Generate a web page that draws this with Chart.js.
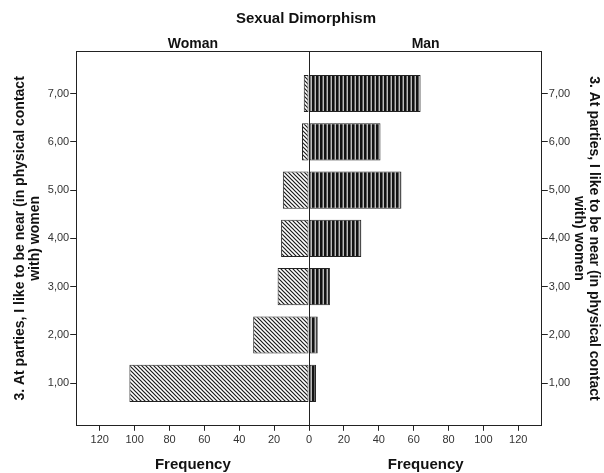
<!DOCTYPE html>
<html>
<head>
<meta charset="utf-8">
<title>Sexual Dimorphism</title>
<script src="https://cdn.jsdelivr.net/npm/chart.js@4/dist/chart.umd.min.js"></script>
<style>
  html, body { margin: 0; padding: 0; background: #fff; }
  canvas { display: block; }
</style>
</head>
<body>
<canvas id="pyramid" width="604" height="473"></canvas>
<script>
// answer levels (1,00 .. 7,00) and counts
const levels = [1, 2, 3, 4, 5, 6, 7];
const women = [103, 32, 18, 16, 15, 4, 3];
const men = [4, 5, 12, 30, 53, 41, 64];
const freqTicks = [-120, -100, -80, -60, -40, -20, 0, 20, 40, 60, 80, 100, 120];
const yTitle = ['3. At parties, I like to be near (in physical contact', 'with) women'];

const FONT = "'Liberation Sans', Arial, Helvetica, sans-serif";
const canvas = document.getElementById('pyramid');
const ctx = canvas.getContext('2d');

// hatch for women: thin diagonal lines
function hatchWoman() {
	const c = document.createElement('canvas');
	c.width = 4; c.height = 4;
	const g = c.getContext('2d');
	g.fillStyle = '#fff';
	g.fillRect(0, 0, 4, 4);
	g.strokeStyle = '#1a1a1a';
	g.lineWidth = 1.2;
	g.beginPath();
	g.moveTo(-1, -1); g.lineTo(5, 5);
	g.moveTo(-1, 3); g.lineTo(1, 5);
	g.moveTo(3, -1); g.lineTo(5, 1);
	g.stroke();
	return ctx.createPattern(c, 'repeat');
}

// hatch for men: black vertical stripes with grey gaps
function hatchMan() {
	const c = document.createElement('canvas');
	c.width = 4; c.height = 1;
	const g = c.getContext('2d');
	g.fillStyle = '#121212';
	g.fillRect(0, 0, 2, 1);
	g.fillStyle = '#5e5e5e';
	g.fillRect(2, 0, 1, 1);
	g.fillStyle = '#bdbdbd';
	g.fillRect(3, 0, 1, 1);
	return ctx.createPattern(c, 'repeat');
}

const fixedTicks = list => scale => { scale.ticks = list.map(v => ({ value: v })); };
const levelLabel = v => v.toFixed(2).replace('.', ',');

// frame, zero line and the half labels (Woman / Man / Frequency)
const frameAndLabels = {
	id: 'frameAndLabels',
	afterDatasetsDraw(chart) {
		const c = chart.ctx;
		const a = chart.chartArea;
		const x0 = Math.round(chart.scales.x.getPixelForValue(0)) + 0.5;
		c.save();
		c.strokeStyle = '#222';
		c.lineWidth = 1;
		c.strokeRect(Math.round(a.left) + 0.5, Math.round(a.top) + 0.5, Math.round(a.width) - 1, Math.round(a.height) - 1);
		c.beginPath();
		c.moveTo(x0, a.top);
		c.lineTo(x0, a.bottom);
		c.stroke();

		c.fillStyle = '#111';
		c.textAlign = 'center';
		c.textBaseline = 'alphabetic';
		c.font = 'bold 14px ' + FONT;
		c.fillText('Woman', (a.left + x0) / 2, a.top - 3);
		c.fillText('Man', (x0 + a.right) / 2, a.top - 3);
		c.font = 'bold 15px ' + FONT;
		c.textBaseline = 'middle';
		c.fillText('Frequency', (a.left + x0) / 2, a.bottom + 39);
		c.fillText('Frequency', (x0 + a.right) / 2, a.bottom + 39);
		c.restore();
	}
};

const tickFont = { family: FONT, size: 11 };
const titleFont = { family: FONT, size: 14, weight: 'bold', lineHeight: 1.1 };

new Chart(canvas, {
	type: 'bar',
	data: {
		datasets: [
			{
				label: 'Woman',
				data: levels.map((l, i) => ({ x: -women[i], y: l })),
				backgroundColor: hatchWoman(),
				borderColor: '#222',
				borderWidth: 1,
				borderSkipped: false
			},
			{
				label: 'Man',
				data: levels.map((l, i) => ({ x: men[i], y: l })),
				backgroundColor: hatchMan(),
				borderColor: '#222',
				borderWidth: 1,
				borderSkipped: false
			}
		]
	},
	options: {
		indexAxis: 'y',
		responsive: false,
		animation: false,
		categoryPercentage: 1,
		barPercentage: 0.77,
		layout: { padding: { left: 8, right: 0, top: 0, bottom: 23 } },
		plugins: {
			legend: { display: false },
			tooltip: { enabled: false },
			title: {
				display: true,
				text: 'Sexual Dimorphism',
				color: '#111',
				font: { family: FONT, size: 15, weight: 'bold' },
				padding: { top: 10, bottom: 23 }
			}
		},
		scales: {
			x: {
				type: 'linear',
				stacked: true,
				min: -133.5,
				max: 133.5,
				afterBuildTicks: fixedTicks(freqTicks),
				ticks: { callback: v => Math.abs(v), color: '#333', font: tickFont, padding: 3, maxRotation: 0 },
				grid: { drawOnChartArea: false, tickLength: 5, tickColor: '#222' },
				border: { display: false }
			},
			y: {
				type: 'linear',
				position: 'left',
				stacked: true,
				offset: false,
				min: 0.12,
				max: 7.88,
				afterBuildTicks: fixedTicks(levels),
				ticks: { callback: levelLabel, color: '#333', font: tickFont, padding: 1 },
				grid: { offset: false, drawOnChartArea: false, tickLength: 6, tickColor: '#222' },
				border: { display: false },
				title: { display: true, text: yTitle, color: '#111', font: titleFont, padding: { top: 4, bottom: 4 } }
			},
			y2: {
				type: 'linear',
				position: 'right',
				display: true,
				offset: false,
				min: 0.12,
				max: 7.88,
				afterBuildTicks: fixedTicks(levels),
				ticks: { callback: levelLabel, color: '#333', font: tickFont, padding: 1 },
				grid: { offset: false, drawOnChartArea: false, tickLength: 6, tickColor: '#222' },
				border: { display: false },
				title: { display: true, text: yTitle, color: '#111', font: titleFont, padding: { top: 2, bottom: 0 } }
			}
		}
	},
	plugins: [frameAndLabels]
});
</script>
</body>
</html>
